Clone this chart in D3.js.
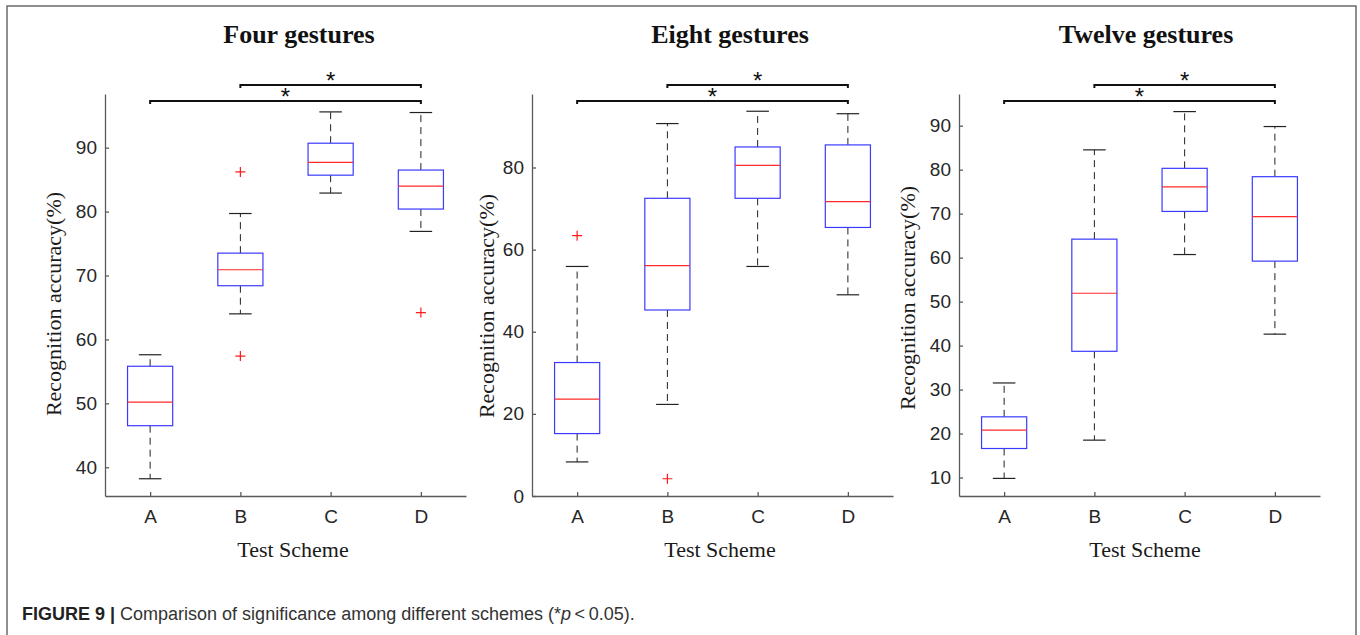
<!DOCTYPE html>
<html>
<head>
<meta charset="utf-8">
<script src="https://cdn.jsdelivr.net/npm/d3@7/dist/d3.min.js"></script>
<style>
body { margin: 0; background: #fff; }
</style>
</head>
<body>
<svg id="fig" width="1360" height="635"></svg>
<script>
// Data. Box stats are [lower whisker, q1, median, q3, upper whisker]
var categories = ["A", "B", "C", "D"];
var titles = ["Four gestures", "Eight gestures", "Twelve gestures"];

var fourStats = [[38.2, 46.5, 50.2, 55.8, 57.6], [64.0, 68.4, 70.9, 73.5, 79.7],
                 [82.9, 85.7, 87.7, 90.7, 95.6], [76.9, 80.4, 84.0, 86.5, 95.5]];
var fourOutliers = [[], [86.2, 57.4], [], [64.2]];
var fourTicks = [40, 50, 60, 70, 80, 90];
var fourLimits = [35.5, 98.4];

var eightStats = [[8.3, 15.2, 23.6, 32.5, 55.9], [22.3, 45.3, 56.1, 72.5, 90.7],
                  [55.9, 72.5, 80.5, 85.0, 93.7], [49.0, 65.4, 71.7, 85.5, 93.1]];
var eightOutliers = [[63.4], [4.2], [], []];
var eightTicks = [0, 20, 40, 60, 80];
var eightLimits = [0, 97.9];

var twelveStats = [[9.8, 16.6, 20.8, 23.8, 31.5], [18.5, 38.7, 51.9, 64.2, 84.5],
                   [60.7, 70.5, 76.1, 80.3, 93.2], [42.6, 59.2, 69.3, 78.4, 89.8]];
var twelveOutliers = [[], [], [], []];
var twelveTicks = [10, 20, 30, 40, 50, 60, 70, 80, 90];
var twelveLimits = [5.8, 97.2];

// significance brackets, top one first
var sigPairs = [["B", "D"], ["A", "D"]];

var panels = [
  { title: titles[0], stats: fourStats, outliers: fourOutliers, ticks: fourTicks, lim: fourLimits },
  { title: titles[1], stats: eightStats, outliers: eightOutliers, ticks: eightTicks, lim: eightLimits },
  { title: titles[2], stats: twelveStats, outliers: twelveOutliers, ticks: twelveTicks, lim: twelveLimits }
];

// layout (pixels)
var axLeft = [105, 532, 959],
    axWidth = 361,
    axTop = 94,
    axBottom = 496,
    titleX = [299, 730, 1146],
    ylabX = [53, 486, 907],
    ylabY = [304, 306, 298],
    xlabX = [293, 720, 1145];

var svg = d3.select("#fig");

// outer frame, open at the bottom like the cropped figure
svg.append("path")
    .attr("d", "M7,640V6H1356V640")
    .attr("fill", "none").attr("stroke", "#6b6b6b").attr("stroke-width", 1.5);

// MATLAB look for the axes
function styleAxis(sel) {
  sel.select(".domain").attr("stroke", "#5a5a5a").attr("stroke-width", 1.3);
  sel.selectAll(".tick line").attr("stroke", "#5a5a5a").attr("stroke-width", 1.3);
  sel.selectAll(".tick text")
      .attr("fill", "#262626")
      .style("font-family", "Liberation Sans, Arial, sans-serif")
      .style("font-size", "19px");
}

panels.forEach(function (p, k) {
  var left = axLeft[k];
  var x = d3.scalePoint().domain(categories).range([left, left + axWidth]).padding(0.5);
  var y = d3.scaleLinear().domain(p.lim).range([axBottom, axTop]);
  var step = x.step(), bw = step * 0.5, cw = step * 0.25;
  var g = svg.append("g");

  // axes, ticks pointing in
  g.append("g")
      .attr("transform", "translate(" + left + ",0)")
      .call(d3.axisLeft(y).tickValues(p.ticks).tickSizeInner(-4).tickSizeOuter(0).tickPadding(8))
      .call(styleAxis);
  g.append("g")
      .attr("transform", "translate(0," + axBottom + ")")
      .call(d3.axisBottom(x).tickSizeInner(-4).tickSizeOuter(0).tickPadding(14))
      .call(styleAxis);

  var box = g.selectAll(".bx").data(p.stats).enter().append("g").attr("class", "bx");
  var cx = function (d, i) { return x(categories[i]); };

  // dashed whiskers
  box.append("line").attr("x1", cx).attr("x2", cx)
      .attr("y1", function (d) { return y(d[3]); }).attr("y2", function (d) { return y(d[4]); })
      .attr("stroke", "#222").attr("stroke-dasharray", "7,5");
  box.append("line").attr("x1", cx).attr("x2", cx)
      .attr("y1", function (d) { return y(d[1]); }).attr("y2", function (d) { return y(d[0]); })
      .attr("stroke", "#222").attr("stroke-dasharray", "7,5");
  // caps
  [0, 4].forEach(function (j) {
    box.append("line")
        .attr("x1", function (d, i) { return cx(d, i) - cw / 2; })
        .attr("x2", function (d, i) { return cx(d, i) + cw / 2; })
        .attr("y1", function (d) { return y(d[j]); }).attr("y2", function (d) { return y(d[j]); })
        .attr("stroke", "#222").attr("stroke-width", 1.2);
  });
  // box
  box.append("rect")
      .attr("x", function (d, i) { return cx(d, i) - bw / 2; })
      .attr("y", function (d) { return y(d[3]); })
      .attr("width", bw)
      .attr("height", function (d) { return y(d[1]) - y(d[3]); })
      .attr("fill", "#fff").attr("stroke", "#3a3aff").attr("stroke-width", 1.2);
  // median
  box.append("line")
      .attr("x1", function (d, i) { return cx(d, i) - bw / 2; })
      .attr("x2", function (d, i) { return cx(d, i) + bw / 2; })
      .attr("y1", function (d) { return y(d[2]); }).attr("y2", function (d) { return y(d[2]); })
      .attr("stroke", "#ff2a2a").attr("stroke-width", 1.2);

  // outliers as red plus signs
  var pts = [];
  p.outliers.forEach(function (arr, i) { arr.forEach(function (v) { pts.push([categories[i], v]); }); });
  g.selectAll(".out").data(pts).enter().append("path")
      .attr("class", "out")
      .attr("d", function (d) {
        var px = x(d[0]), py = y(d[1]);
        return "M" + (px - 5) + "," + py + "H" + (px + 5) + "M" + px + "," + (py - 5) + "V" + (py + 5);
      })
      .attr("stroke", "#ff1a1a").attr("stroke-width", 1.2).attr("fill", "none");

  // significance brackets
  sigPairs.forEach(function (pr, lvl) {
    var by = lvl === 0 ? axTop - 9 : axTop + 7;
    var x1 = x(pr[0]), x2 = x(pr[1]);
    g.append("path")
        .attr("d", "M" + x1 + "," + (by + 3) + "V" + by + "H" + x2 + "V" + (by + 3))
        .attr("fill", "none").attr("stroke", "#111").attr("stroke-width", 2);
    g.append("text")
        .attr("x", (x1 + x2) / 2).attr("y", by + 4)
        .attr("text-anchor", "middle")
        .style("font-family", "Liberation Sans, Arial, sans-serif").style("font-size", "24px")
        .style("fill", "#111")
        .text("*");
  });

  // title and labels
  g.append("text")
      .attr("x", titleX[k]).attr("y", 43)
      .attr("text-anchor", "middle")
      .style("font-family", "Liberation Serif, Times New Roman, serif")
      .style("font-weight", "bold").style("font-size", "26px").style("fill", "#111")
      .text(p.title);
  g.append("text")
      .attr("transform", "translate(" + ylabX[k] + "," + ylabY[k] + ")rotate(-90)")
      .attr("text-anchor", "middle").attr("dy", "0.35em")
      .style("font-family", "Liberation Serif, Times New Roman, serif")
      .style("font-size", "22px").style("fill", "#1a1a1a")
      .text("Recognition accuracy(%)");
  g.append("text")
      .attr("x", xlabX[k]).attr("y", 557)
      .attr("text-anchor", "middle")
      .style("font-family", "Liberation Serif, Times New Roman, serif")
      .style("font-size", "22px").style("fill", "#1a1a1a")
      .text("Test Scheme");
});

// caption
var cap = svg.append("text")
    .attr("x", 22).attr("y", 620)
    .style("font-family", "Liberation Sans, Arial, sans-serif").style("font-size", "18px");
cap.append("tspan").style("font-weight", "bold").style("fill", "#222").text("FIGURE 9 | ");
cap.append("tspan").style("fill", "#333").text("Comparison of significance among different schemes (*");
cap.append("tspan").style("fill", "#333").style("font-style", "italic").text("p");
cap.append("tspan").style("fill", "#333").text("\u2009<\u20090.05).");
</script>
</body>
</html>
